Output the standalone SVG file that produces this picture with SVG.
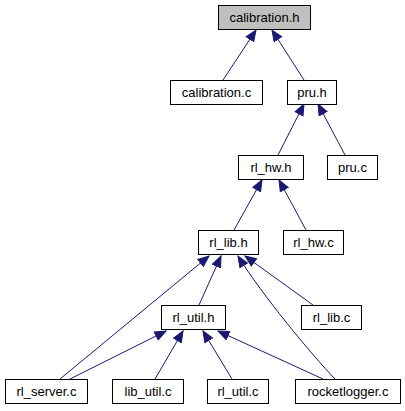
<svg xmlns="http://www.w3.org/2000/svg" width="405" height="411" viewBox="0 0 405 411">
<style>
.n rect{fill:#ffffff;stroke:#000000;stroke-width:1}
.n.root rect{fill:#bfbfbf}
.n text{font-family:"Liberation Sans",Arial,Helvetica,sans-serif;font-size:13px;text-anchor:middle;fill:#000000}
.e path{fill:none;stroke:#191970;stroke-width:1;marker-end:url(#ah)}
</style>
<defs>
<marker id="ah" markerUnits="userSpaceOnUse" markerWidth="13" markerHeight="11" refX="11.5" refY="5.5" orient="auto">
<path d="M0.5,1 L11.5,5.5 L0.5,10 z" fill="#191970" stroke="#191970" stroke-width="1"/>
</marker>
</defs>
<rect width="405" height="411" fill="#ffffff"/>
<g id="edges" class="e">
<path d="M223,80 L256,30"/>
<path d="M304,80 L272,30"/>
<path d="M278,155 L304,104"/>
<path d="M345,155 L318,104"/>
<path d="M234,230 L262,180"/>
<path d="M306,230 L279,180"/>
<path d="M199,305 L221,256"/>
<path d="M60,379 L209,256"/>
<path d="M335,379 C312,355 262,295 238,256"/>
<path d="M313,305 L245,256"/>
<path d="M70,379 L166,331"/>
<path d="M155,379 L183,331"/>
<path d="M232,379 L203,331"/>
<path d="M323,379 L218,331"/>
</g>
<g id="calibration_h" class="n root"><rect x="218.5" y="5.5" width="92" height="24"/><text x="264.5" y="22">calibration.h</text></g>
<g id="calibration_c" class="n"><rect x="170.5" y="80.5" width="92" height="24"/><text x="216.5" y="97">calibration.c</text></g>
<g id="pru_h" class="n"><rect x="287.5" y="80.5" width="49" height="24"/><text x="312" y="97">pru.h</text></g>
<g id="rl_hw_h" class="n"><rect x="238.5" y="155.5" width="65" height="24"/><text x="271" y="172">rl_hw.h</text></g>
<g id="pru_c" class="n"><rect x="327.5" y="155.5" width="50" height="24"/><text x="352.5" y="172">pru.c</text></g>
<g id="rl_lib_h" class="n"><rect x="198.5" y="230.5" width="60" height="24"/><text x="228.5" y="247">rl_lib.h</text></g>
<g id="rl_hw_c" class="n"><rect x="283.5" y="230.5" width="60" height="24"/><text x="313.5" y="247">rl_hw.c</text></g>
<g id="rl_util_h" class="n"><rect x="161.5" y="305.5" width="64" height="24"/><text x="193.5" y="322">rl_util.h</text></g>
<g id="rl_lib_c" class="n"><rect x="301.5" y="305.5" width="60" height="24"/><text x="331.5" y="322">rl_lib.c</text></g>
<g id="rl_server_c" class="n"><rect x="5.5" y="379.5" width="82" height="24"/><text x="46.5" y="396">rl_server.c</text></g>
<g id="lib_util_c" class="n"><rect x="112.5" y="379.5" width="71" height="24"/><text x="148" y="396">lib_util.c</text></g>
<g id="rl_util_c" class="n"><rect x="207.5" y="379.5" width="61" height="24"/><text x="238" y="396">rl_util.c</text></g>
<g id="rocketlogger_c" class="n"><rect x="295.5" y="379.5" width="105" height="24"/><text x="348" y="396">rocketlogger.c</text></g>
</svg>
